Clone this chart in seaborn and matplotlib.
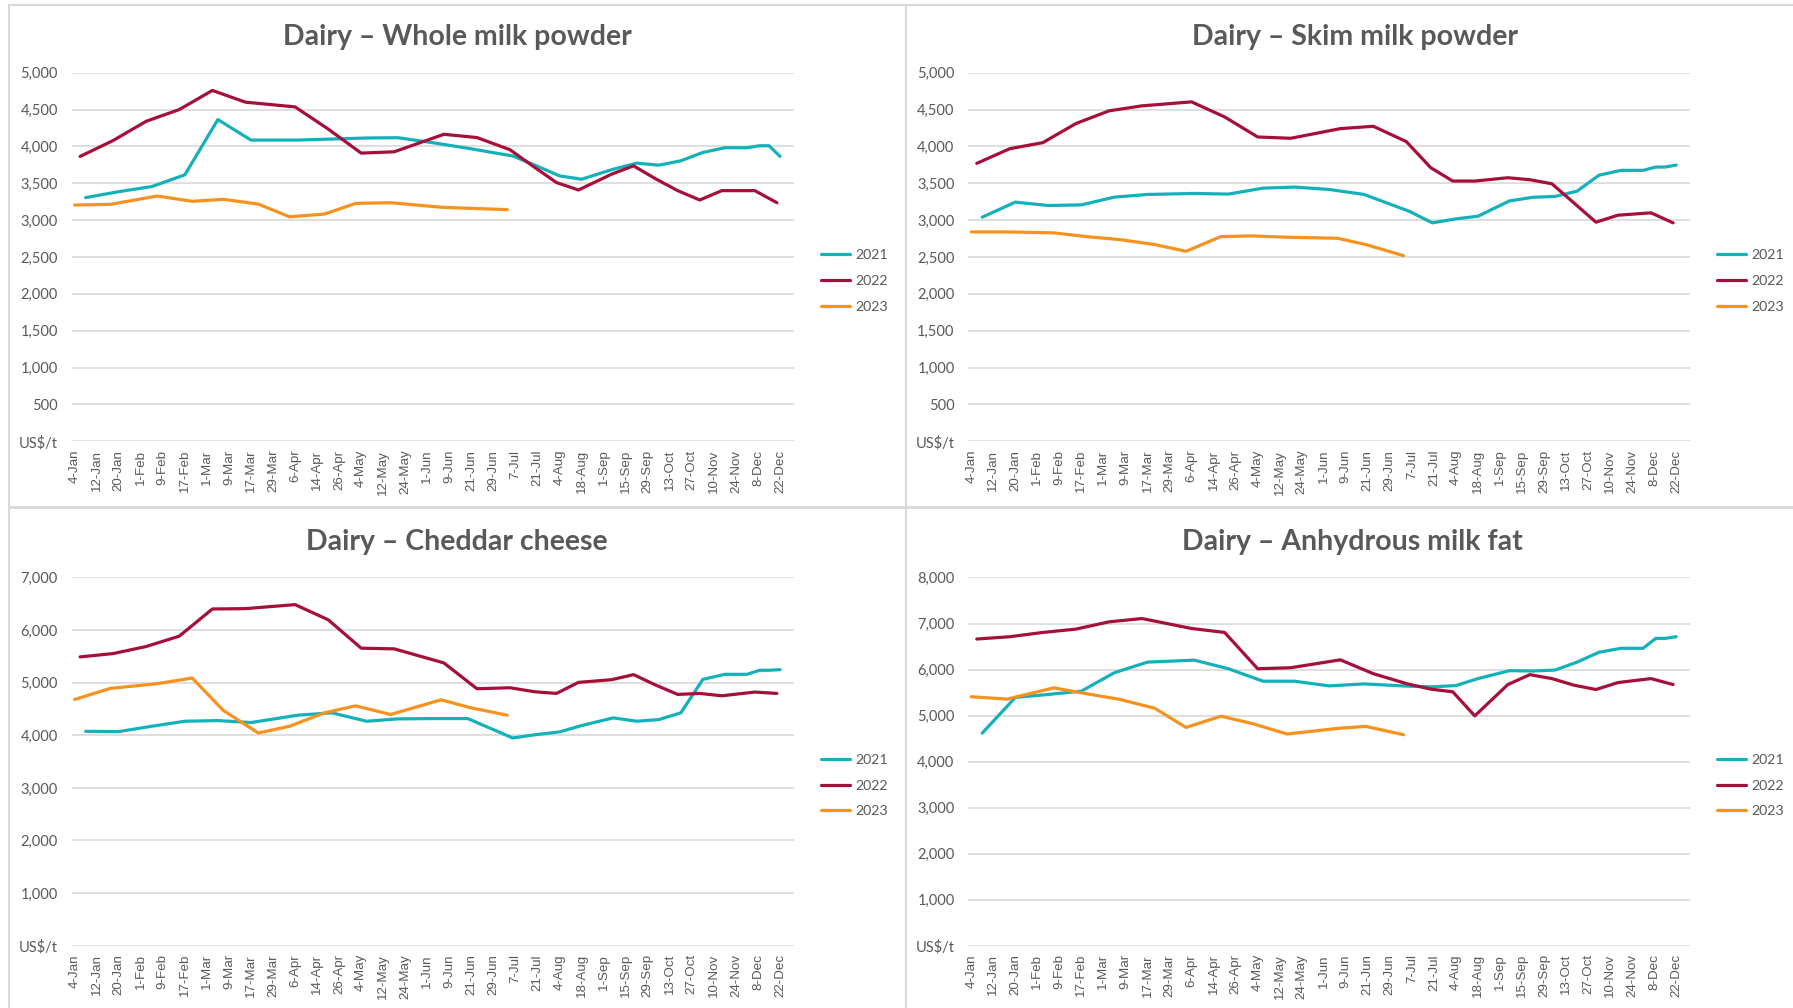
import numpy as np
import pandas as pd
import matplotlib
matplotlib.use('Agg')
import matplotlib.pyplot as plt
import seaborn as sns

# rótulos do eixo x (datas dos leilões)
labels_x = ['4-Jan', '12-Jan', '20-Jan', '1-Feb', '9-Feb', '17-Feb', '1-Mar', '9-Mar', '17-Mar',
            '29-Mar', '6-Apr', '14-Apr', '26-Apr', '4-May', '12-May', '24-May', '1-Jun', '9-Jun',
            '21-Jun', '29-Jun', '7-Jul', '21-Jul', '4-Aug', '18-Aug', '1-Sep', '15-Sep', '29-Sep',
            '13-Oct', '27-Oct', '10-Nov', '24-Nov', '8-Dec', '22-Dec']

# datas de cada ano
datas_2021 = ['8-Jan', '20-Jan', '5-Feb', '17-Feb', '5-Mar', '17-Mar', '7-Apr', '22-Apr', '6-May',
              '20-May', '3-Jun', '19-Jun', '6-Jul', '20-Jul', '4-Aug', '18-Aug', '7-Sep', '22-Sep',
              '6-Oct', '20-Oct', '3-Nov', '17-Nov', '1-Dec', '9-Dec', '15-Dec', '22-Dec']
datas_2022 = ['6-Jan', '18-Jan', '3-Feb', '15-Feb', '3-Mar', '15-Mar', '6-Apr', '20-Apr', '4-May',
              '18-May', '7-Jun', '23-Jun', '5-Jul', '19-Jul', '2-Aug', '16-Aug', '6-Sep', '20-Sep',
              '4-Oct', '18-Oct', '1-Nov', '15-Nov', '6-Dec', '20-Dec']
datas_2023 = ['3-Jan', '17-Jan', '7-Feb', '21-Feb', '7-Mar', '21-Mar', '4-Apr', '18-Apr', '2-May',
              '16-May', '6-Jun', '20-Jun', '4-Jul']

# Whole milk powder (US$/t)
wmp_2021 = [3305, 3386, 3455, 3614, 4364, 4086, 4086, 4100, 4114, 4118, 4050, 3975, 3870, 3740,
            3600, 3555, 3690, 3773, 3745, 3805, 3918, 3982, 3982, 4009, 4009, 3864]
wmp_2022 = [3864, 4080, 4341, 4500, 4759, 4600, 4536, 4236, 3909, 3927, 4164, 4120, 3955, 3718,
            3510, 3409, 3623, 3736, 3560, 3400, 3273, 3400, 3400, 3236]
wmp_2023 = [3205, 3214, 3327, 3255, 3282, 3218, 3045, 3082, 3227, 3236, 3175, 3160, 3143]

# Skim milk powder
smp_2021 = [3040, 3244, 3198, 3207, 3312, 3348, 3362, 3353, 3434, 3448, 3416, 3348, 3121, 2963,
            3017, 3053, 3260, 3310, 3321, 3393, 3610, 3675, 3675, 3720, 3720, 3747]
smp_2022 = [3770, 3969, 4051, 4310, 4482, 4550, 4604, 4400, 4128, 4110, 4241, 4273, 4065, 3711,
            3530, 3530, 3575, 3548, 3493, 3233, 2972, 3067, 3099, 2963]
smp_2023 = [2840, 2840, 2827, 2773, 2736, 2668, 2577, 2777, 2786, 2768, 2754, 2668, 2518]

# Cheddar cheese
cheddar_2021 = [4076, 4070, 4172, 4267, 4280, 4242, 4382, 4427, 4267, 4312, 4318, 4318, 3949, 4013,
                4064, 4185, 4331, 4267, 4299, 4427, 5064, 5159, 5159, 5236, 5236, 5248]
cheddar_2022 = [5490, 5554, 5688, 5885, 6401, 6408, 6484, 6197, 5656, 5643, 5376, 4885, 4904, 4828,
                4796, 5006, 5057, 5153, 4955, 4777, 4796, 4751, 4822, 4796]
cheddar_2023 = [4681, 4892, 4981, 5089, 4471, 4044, 4172, 4427, 4560, 4395, 4675, 4528, 4382]

# Anhydrous milk fat
amf_2021 = [4620, 5394, 5459, 5531, 5932, 6161, 6204, 6018, 5746, 5746, 5645, 5688, 5638, 5624,
            5652, 5803, 5975, 5968, 5989, 6161, 6376, 6462, 6462, 6677, 6677, 6713]
amf_2022 = [6663, 6713, 6806, 6878, 7036, 7108, 6892, 6806, 6018, 6039, 6211, 5910, 5695, 5574,
            5516, 4993, 5674, 5889, 5803, 5660, 5566, 5717, 5803, 5674]
amf_2023 = [5409, 5358, 5602, 5466, 5351, 5158, 4742, 4986, 4828, 4599, 4721, 4764, 4584]

cores = {'2021': '#14B1BA', '2022': '#A50F3A', '2023': '#F7921E'}
cinza = '#595959'


def dia_do_ano(datas):
    return pd.to_datetime([d + '-2021' for d in datas], format='%d-%b-%Y').dayofyear.values


def posicao(datas):
    # posição no eixo de categorias (interpolando entre os rótulos)
    return np.interp(dia_do_ano(datas), dia_do_ano(labels_x), np.arange(len(labels_x)))


def monta_tabela(v2021, v2022, v2023):
    partes = []
    for ano, datas, vals in [('2021', datas_2021, v2021), ('2022', datas_2022, v2022),
                             ('2023', datas_2023, v2023)]:
        partes.append(pd.DataFrame({'x': posicao(datas), 'preco': vals, 'ano': ano}))
    return pd.concat(partes, ignore_index=True)


paineis = [
    ('Dairy – Whole milk powder', monta_tabela(wmp_2021, wmp_2022, wmp_2023), 5000, 500,
     [0.0400, 0.5622, 0.4028, 0.3657], (0.2549, 0.9630)),
    ('Dairy – Skim milk powder', monta_tabela(smp_2021, smp_2022, smp_2023), 5000, 500,
     [0.5401, 0.5622, 0.4025, 0.3657], (0.7557, 0.9630)),
    ('Dairy – Cheddar cheese', monta_tabela(cheddar_2021, cheddar_2022, cheddar_2023), 7000, 1000,
     [0.0400, 0.0618, 0.4028, 0.3653], (0.2549, 0.4625)),
    ('Dairy – Anhydrous milk fat', monta_tabela(amf_2021, amf_2022, amf_2023), 8000, 1000,
     [0.5401, 0.0618, 0.4025, 0.3653], (0.7545, 0.4625)),
]

sns.set_style('white')
plt.rcParams['font.family'] = ['Lato', 'DejaVu Sans']

fig = plt.figure(figsize=(17.93, 10.08), dpi=100)

# molduras dos painéis
borda = '#d9d9d9'
fig.add_artist(plt.Line2D([9 / 1793, 9 / 1793], [0, 1 - 5 / 1008], color=borda, lw=1.5))
fig.add_artist(plt.Line2D([9 / 1793, 1], [1 - 5 / 1008, 1 - 5 / 1008], color=borda, lw=1.5))
fig.add_artist(plt.Line2D([906 / 1793, 906 / 1793], [0, 1 - 5 / 1008], color=borda, lw=1.5))
fig.add_artist(plt.Line2D([9 / 1793, 1], [1 - 507 / 1008, 1 - 507 / 1008], color=borda, lw=2))

for titulo, tabela, ymax, passo, pos, pos_titulo in paineis:
    ax = fig.add_axes(pos)
    sns.lineplot(data=tabela, x='x', y='preco', hue='ano', palette=cores, lw=2.3, ax=ax)

    ax.set_xlim(-0.13, 32.63)
    ax.set_ylim(0, ymax)
    ax.set_xticks(np.arange(len(labels_x)))
    ax.set_xticklabels(labels_x, rotation=90, ha='center', va='top',
                       family=['Liberation Sans'], fontsize=9.6, color=cinza)
    ax.set_yticks(np.arange(0, ymax + 1, passo))
    ax.yaxis.set_major_formatter(lambda v, _: 'US$/t' if v == 0 else f'{v:,.0f}')
    ax.tick_params(axis='y', length=0, pad=10, labelsize=10.5, labelcolor=cinza)
    ax.tick_params(axis='x', length=0, pad=6)
    ax.grid(axis='y', color='#d9d9d9', lw=1.2)
    ax.set_axisbelow(True)
    for s in ax.spines.values():
        s.set_visible(False)
    ax.set_xlabel('')
    ax.set_ylabel('')

    sns.move_legend(ax, 'center left', bbox_to_anchor=(1.027, 0.435), frameon=False, title=None,
                    fontsize=10.2, handlelength=2.1, handletextpad=0.35, labelspacing=0.98,
                    borderpad=0, labelcolor=cinza)

    fig.text(pos_titulo[0], pos_titulo[1], titulo, ha='center', va='center',
             fontsize=20.5, fontweight='bold', color=cinza)

fig.savefig('out.png', dpi=100)
